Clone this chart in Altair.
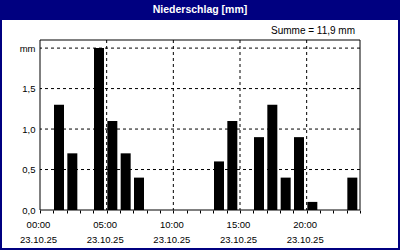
import altair as alt
import pandas as pd

# ---- data ----
hours = list(range(24))
precip_mm = [0, 1.3, 0.7, 0, 2.0, 1.1, 0.7, 0.4, 0, 0, 0, 0,
             0, 0.6, 1.1, 0, 0.9, 1.3, 0.4, 0.9, 0.1, 0, 0, 0.4]
y_ticks = [0, 0.5, 1.0, 1.5, 2.0]
x_grid = [5, 10, 15, 20]
y_grid = [0.5, 1.0, 1.5, 2.0]
date_label = "23.10.25"
title_text = "Niederschlag [mm]"
unit_label = "mm"

NAVY = "#000080"
FONT = "Liberation Sans"

df = pd.DataFrame({"hour": hours, "mm": precip_mm})
df = df[df["mm"] > 0]
one = pd.DataFrame({"k": [0]})

xscale = alt.Scale(domain=[0, 24], nice=False, zero=False)
yscale = alt.Scale(domain=[0, 2.1], nice=False)

x_axis = alt.Axis(
    values=list(range(25)),
    labelExpr=("datum.value % 5 == 0 && datum.value < 24 ? "
               "[(datum.value < 10 ? '0' : '') + datum.value + ':00', '" + date_label + "'] : ''"),
    tickSize=3, tickColor="black", domain=False, grid=False, title=None,
    labelFont=FONT, labelFontSize=9.5, labelColor="black", labelPadding=6,
    labelLineHeight=15, labelFlush=False, labelOverlap=False, labelBound=False,
    labelOffset=-2, labelAlign="center", labelBaseline="top",
)
y_axis = alt.Axis(
    values=y_ticks,
    labelExpr="datum.value == 2 ? '" + unit_label + "' : replace(format(datum.value, '.1f'), '.', ',')",
    ticks=False, domain=False, grid=False, title=None,
    labelFont=FONT, labelFontSize=9.5, labelColor="black", labelPadding=5,
    labelFlush=False, labelOverlap=False,
)

base = alt.Chart(df)

bars = base.mark_rect(color="black").transform_calculate(
    x0="datum.hour + 0.05", x1="datum.hour + 0.8"
).encode(
    x=alt.X("x0:Q", scale=xscale, axis=x_axis),
    x2="x1:Q",
    y=alt.Y("mm:Q", scale=yscale, axis=y_axis),
    y2=alt.datum(0),
)

hgrid = alt.Chart(pd.DataFrame({"v": y_grid})).mark_rule(
    color="black", strokeDash=[3, 3], strokeWidth=1
).encode(y=alt.Y("v:Q", scale=yscale, axis=y_axis))

vgrid = alt.Chart(pd.DataFrame({"h": x_grid})).mark_rule(
    color="black", strokeDash=[3, 3], strokeWidth=1
).encode(x=alt.X("h:Q", scale=xscale, axis=x_axis))

frame = alt.Chart(one).mark_rect(filled=False, stroke="black", strokeWidth=1).encode(
    x=alt.value(0), x2=alt.value(320), y=alt.value(0), y2=alt.value(170)
)

title_bar = alt.Chart(one).mark_rect(color=NAVY).encode(
    x=alt.value(-40), x2=alt.value(360), y=alt.value(-40), y2=alt.value(-20)
)
outer = alt.Chart(one).mark_rect(filled=False, stroke=NAVY, strokeWidth=2).encode(
    x=alt.value(-39), x2=alt.value(359), y=alt.value(-39), y2=alt.value(209)
)
title = alt.Chart(one).mark_text(
    color="white", font=FONT, fontSize=10.5, fontWeight="bold",
    align="center", baseline="middle"
).encode(x=alt.value(160), y=alt.value(-30.5), text=alt.value(title_text))

summe = base.mark_text(
    color="black", font=FONT, fontSize=10, align="right", baseline="middle"
).transform_aggregate(total="sum(mm)").transform_calculate(
    label="'Summe = ' + replace(format(datum.total, '.1f'), '.', ',') + ' mm'"
).encode(x=alt.value(315), y=alt.value(-9), text="label:N")

chart = alt.layer(
    hgrid, vgrid, bars, frame, title_bar, outer, title, summe
).properties(
    width=320, height=170,
    autosize=alt.AutoSizeParams(type="none"),
    padding={"left": 40, "top": 40, "right": 40, "bottom": 40},
    background="white",
).configure_view(stroke=None)

chart.save("out.html", embed_options={"renderer": "svg", "actions": False})
